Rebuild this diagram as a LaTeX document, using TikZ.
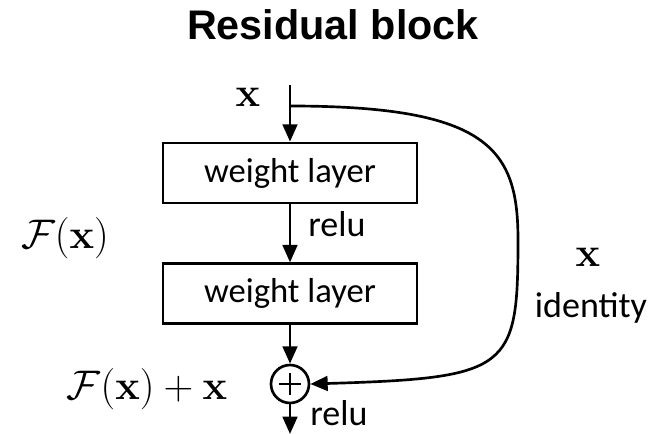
\RequirePackage{fix-cm}
\documentclass[tikz,border=0pt]{standalone}
\usepackage[no-math]{fontspec}
\setmainfont{Carlito}
\newfontfamily\titlefont{Liberation Sans}
\usetikzlibrary{positioning,arrows.meta}

\begin{document}
\begin{tikzpicture}[
  x=0.75pt, y=-0.75pt,
  layer/.style={draw, line width=2pt, minimum width=190.5pt, minimum height=45pt, inner sep=0pt, font=\fontsize{26}{30}\selectfont},
  addop/.style={draw, circle, line width=2pt, minimum size=28.5pt, inner sep=0pt},
  arrow/.style={-{Triangle[length=13pt,width=11pt]}, line width=2pt},
  word/.style={font=\fontsize{27}{30}\selectfont, inner sep=0pt},
  sym/.style={font=\fontsize{31}{36}\selectfont, inner sep=0pt},
]
\useasboundingbox (0,0) rectangle (654,434);

\node[anchor=base, inner sep=0pt, font=\titlefont\bfseries\fontsize{31}{36}\selectfont] (title) at (333,40) {Residual block};

\node[layer] (w1) at (290,173) {weight layer};
\node[layer, below=43.5pt of w1] (w2) {weight layer};
\node[addop, below=29pt of w2] (add) {};
\draw[line width=2pt] ([xshift=-8pt]add.center) -- ([xshift=8pt]add.center);
\draw[line width=2pt] ([yshift=-8pt]add.center) -- ([yshift=8pt]add.center);

\coordinate (in) at (290,85);
\coordinate (fork) at (290,106);
\coordinate (out) at (290,434);

% main path
\draw[arrow] (in) -- (w1);
\draw[arrow] (w1) -- (w2);
\draw[arrow] (w2) -- (add);
\draw[arrow] (add) -- (out);
% shortcut
\draw[arrow] (fork) .. controls (490,106) and (518,150) .. (518,240) .. controls (518,370) and (510,378) .. (add.east);

\node[sym, anchor=base] (xin) at (248,107) {$\mathbf{x}$};
\node[word, anchor=base west] (relu1) at (308,237) {relu};
\node[word, anchor=base west] (relu2) at (310,426) {relu};
\node[sym, anchor=base] (fx) at (65,249) {$\mathcal{F}(\mathbf{x})$};
\node[sym, anchor=base] (sum) at (147,400) {$\mathcal{F}(\mathbf{x}) + \mathbf{x}$};
\node[sym, anchor=base] (xid) at (588,267) {$\mathbf{x}$};
\node[word, anchor=base] (ident) at (591,318) {identity};
\end{tikzpicture}
\end{document}
